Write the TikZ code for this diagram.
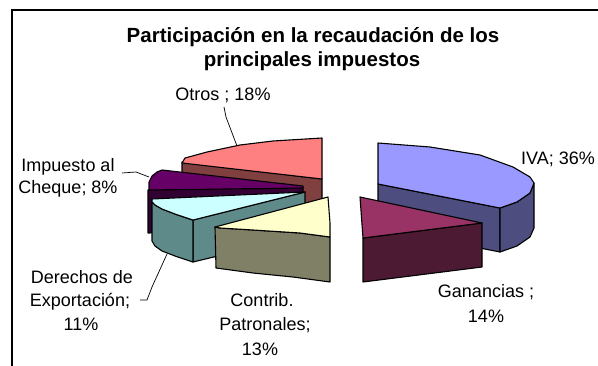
\documentclass[tikz,border=0pt]{standalone}
\usepackage{fontspec}
\setmainfont{Liberation Sans}
\begin{document}
\begin{tikzpicture}[x=1pt,y=-1pt,
  face/.style={draw=black,line width=1.1pt,line join=round},
  lbl/.style={font=\fontsize{18}{22}\selectfont,anchor=base,inner sep=0pt},
  ttl/.style={font=\bfseries\fontsize{20.5}{24}\selectfont,anchor=base,inner sep=0pt},
  leader/.style={draw=black,line width=0.7pt}]
\definecolor{ivatop}{HTML}{9999FF}\definecolor{ivaside}{HTML}{4D4D80}
\definecolor{gantop}{HTML}{993366}\definecolor{ganside}{HTML}{4D1A33}
\definecolor{otrtop}{HTML}{FF8080}\definecolor{otrside}{HTML}{804040}
\definecolor{imptop}{HTML}{660066}\definecolor{impside}{HTML}{330033}
\definecolor{dertop}{HTML}{CCFFFF}\definecolor{derside}{HTML}{5F8A8A}
\definecolor{contop}{HTML}{FFFFCC}\definecolor{conside}{HTML}{808066}
\useasboundingbox (0,0) rectangle (598,365);
\clip (0,0) rectangle (598,365);
\fill[white] (0,0) rectangle (598,365);
% frame
\draw[line width=1.6pt] (12,380) -- (12,10) -- (610,10);
% title
\node[ttl] (t1) at (313,42) {Participación en la recaudación de los};
\node[ttl] (t2) at (312,66) {principales impuestos};
% Otros
\fill[otrside,face] (182,162) -- (322,179) -- (322,221) -- (182,204) -- cycle;
\fill[otrtop,face] (182,163) -- (185,158) -- (207,152) -- (240,145) -- (273,141) -- (322,138) -- (322,179) -- cycle;
% Impuesto al cheque
\fill[impside,face] (148,190) -- (303,187) -- (303,229) -- (148,233) -- cycle;
\fill[imptop,face] (149,190) -- (149,182) -- (152,176) -- (157,172) -- (162,170) -- (303,186) -- (303,188) -- cycle;
% Derechos de exportacion
\fill[derside,face] (193,220) -- (305,192) -- (305,235) -- (193,262) -- cycle;
\fill[derside,face] (152,201) -- (155,205) -- (162,209) -- (175,214) -- (193,220) -- (193,262) -- (175,256) -- (162,251) -- (155,246) -- (152,241) -- cycle;
\fill[dertop,face] (152,199) -- (305,192) -- (193,220) -- (175,214) -- (162,209) -- (155,205) -- (152,202) -- cycle;
% Contrib. patronales
\fill[conside,face] (215,227) -- (220,228) -- (253,230) -- (300,233) -- (330,237) -- (330,282) -- (293,277) -- (253,273) -- (216,268) -- cycle;
\fill[contop,face] (215,227) -- (328,197) -- (329,210) -- (330,223) -- (330,237) -- (300,233) -- (253,230) -- (220,228) -- cycle;
% IVA
\fill[ivaside,face] (378,184) -- (500,208) -- (500,252) -- (378,228) -- cycle;
\fill[ivaside,face] (500,208) -- (517,202) -- (530,193) -- (534,183) -- (534,228) -- (530,237) -- (517,246) -- (500,252) -- cycle;
\fill[ivatop,face] (378,143) -- (430,147) -- (480,155) -- (513,167) -- (530,177) -- (534,183) -- (530,193) -- (517,202) -- (500,208) -- (378,184) -- cycle;
% Ganancias
\fill[ganside,face] (363,238) -- (482,223) -- (482,267) -- (363,282) -- cycle;
\fill[gantop,face] (360,197) -- (482,223) -- (363,238) -- cycle;
% labels
\node[lbl] (otros) at (223,100) {Otros ; 18\%};
\node[lbl] (imp1) at (68,171) {Impuesto al};
\node[lbl] (imp2) at (68,193) {Cheque; 8\%};
\node[lbl] (der1) at (82,283) {Derechos de};
\node[lbl] (der2) at (80,306) {Exportación;};
\node[lbl] (der3) at (81,330) {11\%};
\node[lbl] (con1) at (262,306) {Contrib.};
\node[lbl] (con2) at (265,330) {Patronales;};
\node[lbl] (con3) at (260,355) {13\%};
\node[lbl] (gan1) at (486,297) {Ganancias ;};
\node[lbl] (gan2) at (486,322) {14\%};
\node[lbl,anchor=base west] (iva) at (521,164) {IVA; 36\%};
% leaders
\coordinate (otrA) at (224,107);
\coordinate (otrB) at (226,117);
\coordinate (otrC) at (237,146);
\draw[leader] (otrA) -- (otrB) -- (otrC);
\coordinate (impA) at (122,173);
\coordinate (impB) at (136,172);
\coordinate (impC) at (149,177);
\draw[leader] (impA) -- (impB) -- (impC);
\coordinate (derA) at (140,300);
\coordinate (derB) at (147,300);
\coordinate (derC) at (152,287);
\coordinate (derD) at (167,254);
\draw[leader] (derA) -- (derB) -- (derC) -- (derD);
\end{tikzpicture}
\end{document}
